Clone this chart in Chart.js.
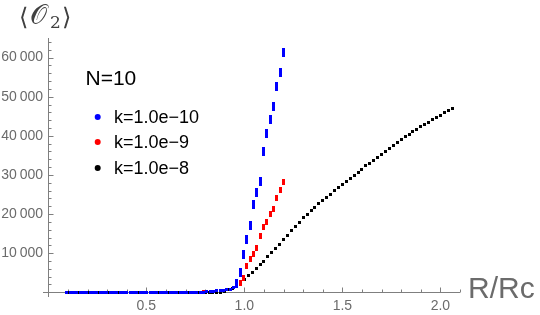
<!DOCTYPE html>
<html>
<head>
<meta charset="utf-8">
<script src="https://cdn.jsdelivr.net/npm/chart.js@4.4.1/dist/chart.umd.min.js"></script>
<style>
body { margin: 0; background: #fff; }
</style>
</head>
<body>
<canvas id="chOrder" width="540" height="315"></canvas>
<script>
const chOrder = document.getElementById('chOrder')

// R/Rc grid shared by the k=1e-10 and k=1e-9 runs
const rGrid = [
	0.094, 0.111, 0.128, 0.145, 0.162, 0.179, 0.196, 0.213, 0.230, 0.247,
	0.264, 0.281, 0.298, 0.315, 0.332, 0.349, 0.366, 0.383, 0.400, 0.417,
	0.434, 0.451, 0.468, 0.485, 0.502, 0.519, 0.536, 0.553, 0.570, 0.587,
	0.604, 0.621, 0.638, 0.655, 0.672, 0.689, 0.706, 0.723, 0.740, 0.757,
	0.774, 0.791, 0.808, 0.825, 0.842, 0.859, 0.876, 0.893, 0.910, 0.927,
	0.944, 0.961, 0.978, 0.995, 1.012, 1.029, 1.046, 1.063, 1.080, 1.097,
	1.114, 1.131, 1.148, 1.165, 1.182, 1.199,
]
const blueValues = [
	0, 0, 0, 0, 0, 0, 0, 0, 0, 0,
	0, 0, 0, 0, 0, 0, 0, 0, 0, 0,
	0, 0, 0, 0, 0, 0, 0, 0, 0, 0,
	0, 0, 0, 0, 0, 0, 0, 0, 0, 0,
	0, 0, 100, 150, 300, 350, 450, 550, 650, 770,
	1280, 2130, 5030, 9560, 13600, 17080, 22400, 25400, 28300, 36000,
	40700, 44200, 47600, 52500, 56300, 61400,
]
const redValues = [
	0, 0, 0, 0, 0, 0, 0, 0, 0, 0,
	0, 0, 0, 0, 0, 0, 0, 0, 0, 0,
	0, 0, 0, 0, 0, 0, 0, 0, 0, 0,
	0, 0, 0, 0, 0, 0, 0, 0, 0, 0,
	0, 80, 150, 220, 300, 380, 460, 560, 650, 770,
	1180, 1620, 2460, 3700, 6600, 8460, 9900, 11280, 14500, 16670,
	17850, 20000, 21360, 24100, 26230, 28100,
]

// k=1e-8 run goes further in R/Rc
const rBlack = [
	0.10, 0.12, 0.14, 0.16, 0.18, 0.20, 0.22, 0.24, 0.26, 0.28,
	0.30, 0.32, 0.34, 0.36, 0.38, 0.40, 0.42, 0.44, 0.46, 0.48,
	0.50, 0.52, 0.54, 0.56, 0.58, 0.60, 0.62, 0.64, 0.66, 0.68,
	0.70, 0.72, 0.74, 0.76, 0.78, 0.80, 0.82, 0.84, 0.86, 0.88,
	0.90, 0.92, 0.94, 0.96, 0.98, 1.00, 1.02, 1.04, 1.06, 1.08,
	1.10, 1.12, 1.14, 1.16, 1.18, 1.20, 1.22, 1.24, 1.26, 1.28,
	1.30, 1.32, 1.34, 1.36, 1.38, 1.40, 1.42, 1.44, 1.46, 1.48,
	1.50, 1.52, 1.54, 1.56, 1.58, 1.60, 1.62, 1.64, 1.66, 1.68,
	1.70, 1.72, 1.74, 1.76, 1.78, 1.80, 1.82, 1.84, 1.86, 1.88,
	1.90, 1.92, 1.94, 1.96, 1.98, 2.00, 2.02, 2.04, 2.06,
]
const blackValues = [
	0, 0, 0, 0, 0, 0, 0, 0, 0, 0,
	0, 0, 0, 0, 0, 0, 0, 0, 0, 0,
	0, 0, 0, 0, 0, 0, 0, 0, 0, 0,
	0, 0, 0, 0, 0, 0, 0, 0, 0, 0,
	300, 600, 1000, 1700, 2500, 3400, 4300, 5100, 6000, 7000,
	8000, 9100, 10100, 11200, 12300, 13500, 14600, 15700, 16800, 17900,
	19000, 19900, 20800, 21700, 22600, 23500, 24300, 25100, 25900, 26700,
	27500, 28300, 29100, 29900, 30700, 31500, 32300, 33000, 33800, 34500,
	35300, 36000, 36800, 37500, 38300, 39000, 39700, 40300, 41000, 41600,
	42300, 42900, 43500, 44100, 44700, 45300, 45900, 46400, 47000,
]

const seriesLabels = ['k=1.0e\u221210', 'k=1.0e\u22129', 'k=1.0e\u22128']
const seriesColors = ['#0000ff', '#ff0000', '#000000']
const xTickLabels = [0.5, 1, 1.5, 2]
const yTickLabels = [10000, 20000, 30000, 40000, 50000, 60000]

const sans = "'Liberation Sans', Arial, sans-serif"

function markImg(color, w, h) {
	const c = document.createElement('canvas')
	c.width = w
	c.height = h
	const g = c.getContext('2d')
	g.fillStyle = color
	g.fillRect(0, 0, w, h)
	return c
}

function zip(xs, ys) {
	return xs.map((x, i) => ({ x: x, y: ys[i] }))
}

function markStyle(color, tallH) {
	const small = markImg(color, 3, 3)
	const tall = markImg(color, 3, tallH)
	return (ctx) => (ctx.raw && ctx.raw.y > 2000 ? tall : small)
}

// Mathematica-like axes through the origin, ticks pointing inward
const originAxes = {
	id: 'originAxes',
	beforeDatasetsDraw(chart) {
		const { ctx, chartArea } = chart
		const xs = chart.scales.x
		const ys = chart.scales.y
		const x0 = Math.round(xs.getPixelForValue(0)) + 0.5
		const y0 = Math.round(ys.getPixelForValue(0)) + 0.5
		ctx.save()
		ctx.strokeStyle = '#7f7f7f'
		ctx.lineWidth = 1
		ctx.beginPath()
		ctx.moveTo(chartArea.left, y0)
		ctx.lineTo(chartArea.right, y0)
		ctx.moveTo(x0, chartArea.top)
		ctx.lineTo(x0, chartArea.bottom)
		xs.ticks.forEach((t) => {
			const px = Math.round(xs.getPixelForValue(t.value)) + 0.5
			const len = xTickLabels.includes(t.value) ? 5 : 3
			ctx.moveTo(px, y0)
			ctx.lineTo(px, y0 - len)
		})
		ys.ticks.forEach((t) => {
			const py = Math.round(ys.getPixelForValue(t.value)) + 0.5
			const len = yTickLabels.includes(t.value) ? 5 : 3
			ctx.moveTo(x0, py)
			ctx.lineTo(x0 + len, py)
		})
		ctx.stroke()
		ctx.restore()
	},
	afterDraw(chart) {
		const { ctx } = chart
		ctx.save()
		ctx.textBaseline = 'alphabetic'
		ctx.textAlign = 'left'

		// y axis label <O_2>
		ctx.fillStyle = '#404040'
		ctx.font = "24px 'DejaVu Serif'"
		ctx.fillText('\u27E8', 19, 25)
		ctx.font = "27px 'DejaVu Serif'"
		ctx.fillText('\uD835\uDCAA', 30, 24)
		ctx.font = "17px 'DejaVu Serif'"
		ctx.fillText('2', 50, 28)
		ctx.font = "24px 'DejaVu Serif'"
		ctx.fillText('\u27E9', 62, 25)

		// x axis label
		ctx.fillStyle = '#6b6b6b'
		ctx.font = '30px ' + sans
		ctx.fillText('R/Rc', 468, 297.5)

		// header + legend
		ctx.fillStyle = '#000'
		ctx.font = '21px ' + sans
		ctx.fillText('N=10', 85.5, 85)
		const rows = [117, 142, 168]
		chart.data.datasets.forEach((ds, i) => {
			ctx.fillStyle = ds.legendColor
			ctx.beginPath()
			ctx.arc(97.7, rows[i], 3, 0, Math.PI * 2)
			ctx.fill()
			ctx.fillStyle = '#000'
			ctx.font = '18px ' + sans
			ctx.fillText(ds.label, 114, rows[i] + 6)
		})
		ctx.restore()
	},
}

new Chart(chOrder, {
	type: 'scatter',
	data: {
		datasets: [
			{ label: seriesLabels[0], data: zip(rGrid, blueValues), legendColor: seriesColors[0], pointStyle: markStyle(seriesColors[0], 9) },
			{ label: seriesLabels[1], data: zip(rGrid, redValues), legendColor: seriesColors[1], pointStyle: markStyle(seriesColors[1], 6) },
			{ label: seriesLabels[2], data: zip(rBlack, blackValues), legendColor: seriesColors[2], pointStyle: markStyle(seriesColors[2], 3) },
		],
	},
	options: {
		responsive: false,
		animation: false,
		layout: { padding: { left: 0, right: 80, top: 38, bottom: 0 } },
		elements: { point: { radius: 2, hoverRadius: 2, borderWidth: 0 } },
		plugins: { legend: { display: false }, tooltip: { enabled: false } },
		scales: {
			x: {
				type: 'linear',
				min: -0.027,
				max: 2.1,
				bounds: 'data',
				grid: { display: false, drawTicks: false },
				border: { display: false },
				afterBuildTicks: (s) => {
					const t = []
					for (let i = 1; i <= 21; i++) t.push({ value: i / 10 })
					s.ticks = t
				},
				afterFit: (s) => { s.height = 18 },
				ticks: {
					autoSkip: false,
					maxRotation: 0,
					padding: 1,
					color: '#6b6b6b',
					font: { family: sans, size: 14 },
					callback: (v) => (xTickLabels.includes(v) ? v.toFixed(1) : ''),
				},
			},
			y: {
				type: 'linear',
				min: -1200,
				max: 65000,
				bounds: 'data',
				grid: { display: false, drawTicks: false },
				border: { display: false },
				afterBuildTicks: (s) => {
					const t = []
					for (let i = 1; i <= 32; i++) t.push({ value: i * 2000 })
					s.ticks = t
				},
				afterFit: (s) => { s.width = 43 },
				ticks: {
					autoSkip: false,
					padding: 0,
					color: '#6b6b6b',
					font: { family: sans, size: 14 },
					callback: (v) => (yTickLabels.includes(v) ? String(v).replace(/\B(?=(\d{3})+$)/g, '\u2009') : ''),
				},
			},
		},
	},
	plugins: [originAxes],
})
</script>
</body>
</html>
